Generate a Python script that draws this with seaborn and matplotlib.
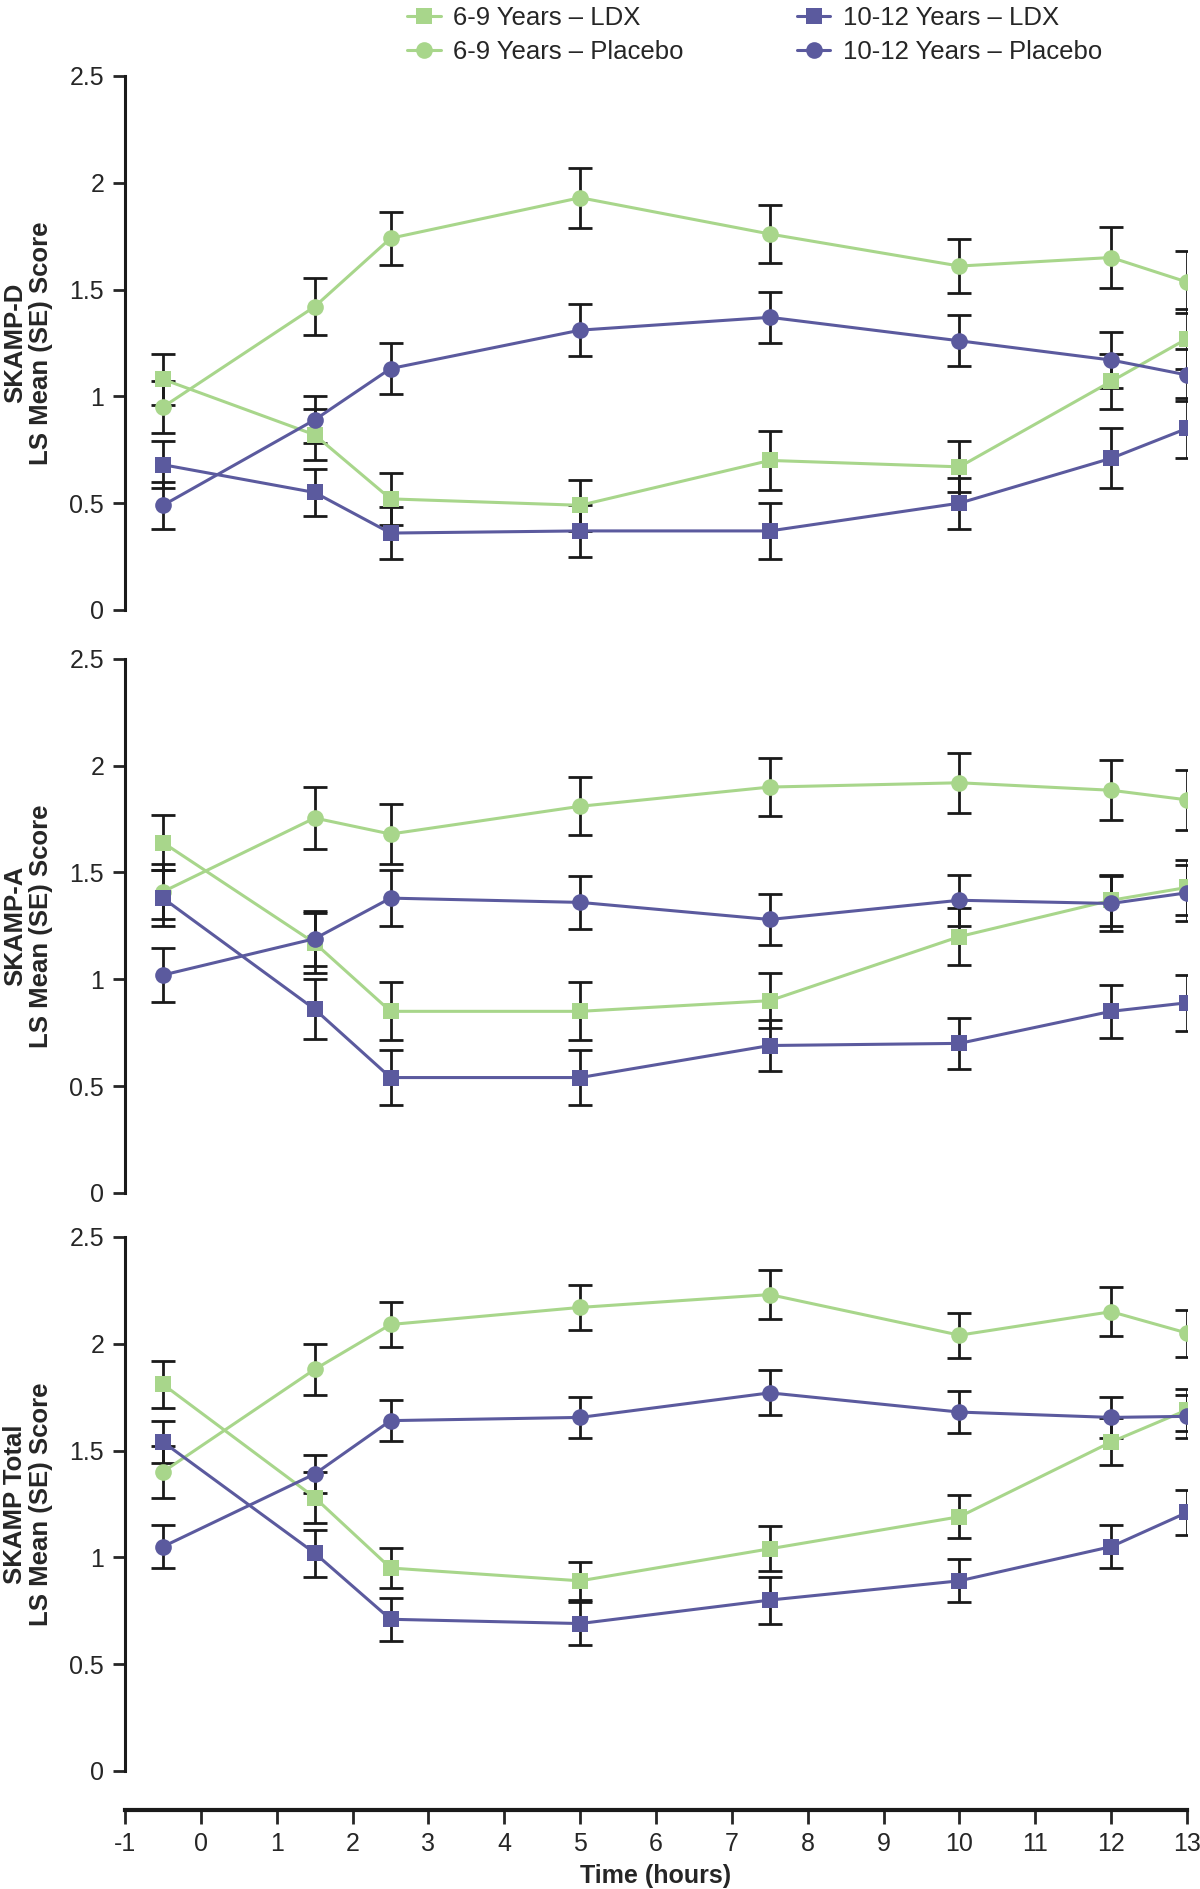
import numpy as np
import pandas as pd
import matplotlib
matplotlib.use("Agg")
import matplotlib.pyplot as plt
import seaborn as sns

# tiempos de medicion (horas)
tiempos = [-0.5, 1.5, 2.5, 5, 7.5, 10, 12, 13]

grupos = ["6-9 Years \u2013 LDX", "6-9 Years \u2013 Placebo",
          "10-12 Years \u2013 LDX", "10-12 Years \u2013 Placebo"]

paneles = ["SKAMP-D", "SKAMP-A", "SKAMP Total"]

# SKAMP-D
d_69_ldx = [1.08, 0.82, 0.52, 0.49, 0.70, 0.67, 1.07, 1.27]
d_69_pbo = [0.95, 1.42, 1.74, 1.93, 1.76, 1.61, 1.65, 1.535]
d_1012_ldx = [0.68, 0.55, 0.36, 0.37, 0.37, 0.50, 0.71, 0.85]
d_1012_pbo = [0.49, 0.89, 1.13, 1.31, 1.37, 1.26, 1.17, 1.10]
d_69_ldx_se = [0.12, 0.12, 0.12, 0.12, 0.14, 0.12, 0.13, 0.14]
d_69_pbo_se = [0.12, 0.135, 0.125, 0.14, 0.135, 0.125, 0.145, 0.145]
d_1012_ldx_se = [0.11, 0.11, 0.12, 0.12, 0.13, 0.12, 0.14, 0.14]
d_1012_pbo_se = [0.11, 0.11, 0.12, 0.12, 0.12, 0.12, 0.13, 0.12]

# SKAMP-A
a_69_ldx = [1.64, 1.17, 0.85, 0.85, 0.90, 1.20, 1.37, 1.43]
a_69_pbo = [1.41, 1.755, 1.68, 1.81, 1.90, 1.92, 1.885, 1.84]
a_1012_ldx = [1.38, 0.86, 0.54, 0.54, 0.69, 0.70, 0.85, 0.89]
a_1012_pbo = [1.02, 1.19, 1.38, 1.36, 1.28, 1.37, 1.355, 1.405]
a_69_ldx_se = [0.13, 0.14, 0.135, 0.135, 0.13, 0.135, 0.12, 0.13]
a_69_pbo_se = [0.13, 0.145, 0.14, 0.135, 0.135, 0.14, 0.14, 0.14]
a_1012_ldx_se = [0.13, 0.14, 0.13, 0.13, 0.12, 0.12, 0.125, 0.13]
a_1012_pbo_se = [0.125, 0.13, 0.13, 0.125, 0.12, 0.12, 0.13, 0.13]

# SKAMP Total
t_69_ldx = [1.81, 1.28, 0.95, 0.89, 1.04, 1.19, 1.54, 1.69]
t_69_pbo = [1.40, 1.88, 2.09, 2.17, 2.23, 2.04, 2.15, 2.05]
t_1012_ldx = [1.54, 1.02, 0.71, 0.69, 0.80, 0.89, 1.05, 1.21]
t_1012_pbo = [1.05, 1.39, 1.64, 1.655, 1.77, 1.68, 1.655, 1.66]
t_69_ldx_se = [0.11, 0.12, 0.095, 0.09, 0.105, 0.10, 0.11, 0.10]
t_69_pbo_se = [0.12, 0.12, 0.105, 0.105, 0.115, 0.105, 0.115, 0.11]
t_1012_ldx_se = [0.10, 0.11, 0.10, 0.10, 0.11, 0.10, 0.10, 0.105]
t_1012_pbo_se = [0.10, 0.09, 0.095, 0.095, 0.105, 0.10, 0.095, 0.10]

medias = {
    "SKAMP-D": [d_69_ldx, d_69_pbo, d_1012_ldx, d_1012_pbo],
    "SKAMP-A": [a_69_ldx, a_69_pbo, a_1012_ldx, a_1012_pbo],
    "SKAMP Total": [t_69_ldx, t_69_pbo, t_1012_ldx, t_1012_pbo],
}
errores = {
    "SKAMP-D": [d_69_ldx_se, d_69_pbo_se, d_1012_ldx_se, d_1012_pbo_se],
    "SKAMP-A": [a_69_ldx_se, a_69_pbo_se, a_1012_ldx_se, a_1012_pbo_se],
    "SKAMP Total": [t_69_ldx_se, t_69_pbo_se, t_1012_ldx_se, t_1012_pbo_se],
}

verde = "#a8d68b"
morado = "#5b5a9e"
colores = {grupos[0]: verde, grupos[1]: verde, grupos[2]: morado, grupos[3]: morado}
marcas = {grupos[0]: "s", grupos[1]: "o", grupos[2]: "s", grupos[3]: "o"}

sns.set_style("white")
plt.rcParams["font.family"] = ["Liberation Sans", "DejaVu Sans"]
plt.rcParams["axes.unicode_minus"] = False

fig = plt.figure(figsize=(12, 18.89), dpi=100)
posiciones = [0.6771, 0.3685, 0.0625]

for i, panel in enumerate(paneles):
    ax = fig.add_axes([0.1042, posiciones[i], 0.885, 0.2827])
    filas = []
    for g, vals in zip(grupos, medias[panel]):
        for t, v in zip(tiempos, vals):
            filas.append({"Tiempo": t, "Valor": v, "Grupo": g})
    df = pd.DataFrame(filas)

    # barras de error (SE) primero, debajo de los marcadores
    for g, vals, se in zip(grupos, medias[panel], errores[panel]):
        ax.errorbar(tiempos, vals, yerr=se, fmt="none", ecolor="#1a1a1a",
                    elinewidth=2.0, capsize=8.5, capthick=2.0, zorder=2)

    sns.lineplot(data=df, x="Tiempo", y="Valor", hue="Grupo", style="Grupo",
                 hue_order=grupos, style_order=grupos, palette=colores,
                 markers=marcas, dashes=False, markersize=12, linewidth=2.2,
                 markeredgewidth=0, ax=ax, legend=(i == 0), zorder=3)

    ax.set_xlim(-1, 13)
    ax.set_ylim(0, 2.5)
    ax.set_yticks([0, 0.5, 1, 1.5, 2, 2.5])
    ax.set_yticklabels(["0", "0.5", "1", "1.5", "2", "2.5"])
    ax.tick_params(axis="y", direction="out", length=9, width=2, labelsize=18,
                   left=True, pad=6)
    for s in ["top", "right", "bottom"]:
        ax.spines[s].set_visible(False)
    ax.spines["left"].set_linewidth(2.2)
    ax.spines["left"].set_color("#1a1a1a")
    ax.set_ylabel(panel + "\nLS Mean (SE) Score", fontsize=18.5, fontweight="bold",
                  labelpad=12, linespacing=1.1)

    if i == 2:
        ax.spines["bottom"].set_visible(True)
        ax.spines["bottom"].set_position(("outward", 28))
        ax.spines["bottom"].set_linewidth(3)
        ax.spines["bottom"].set_color("#1a1a1a")
        ax.set_xticks(range(-1, 14))
        ax.tick_params(axis="x", direction="out", length=10, width=2,
                       labelsize=18, bottom=True, pad=6)
        ax.set_xlabel("Time (hours)", fontsize=18, fontweight="bold", labelpad=6)
    else:
        ax.set_xticks([])
        ax.set_xlabel("")

    if i == 0:
        handles, labels = ax.get_legend_handles_labels()
        ax.get_legend().remove()
        fig.legend(handles, labels, loc="upper left", ncol=2,
                   bbox_to_anchor=(0.32, 1.009), frameon=False, fontsize=18.5,
                   columnspacing=4.4, handlelength=1.3, handletextpad=0.5,
                   labelspacing=0.4)

fig.savefig("out.png", dpi=100)
